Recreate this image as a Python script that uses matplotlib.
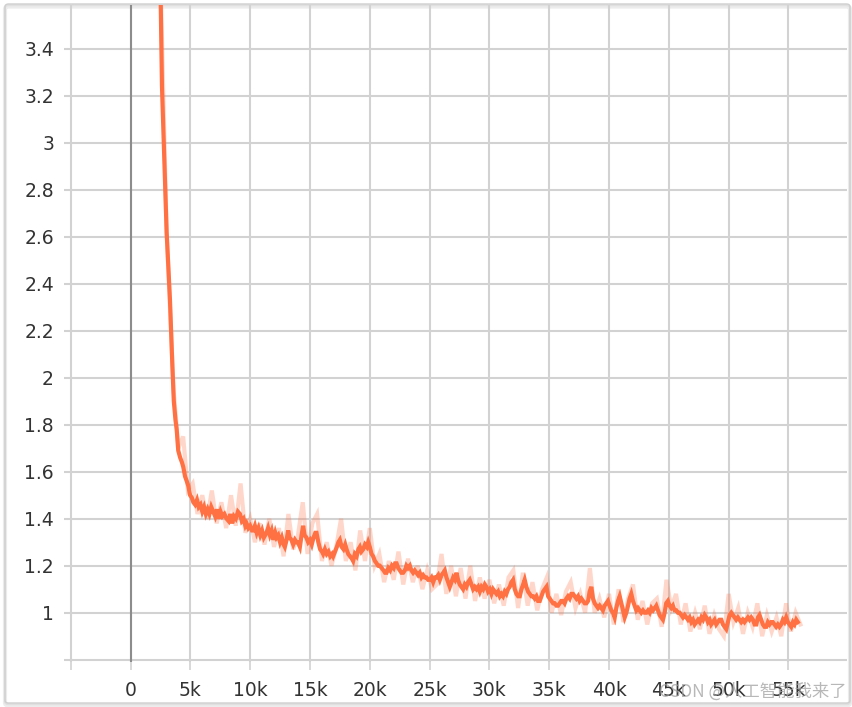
import matplotlib
matplotlib.use("Agg")
import matplotlib.pyplot as plt
from matplotlib.patches import FancyBboxPatch
from matplotlib.ticker import FuncFormatter, FixedLocator

# ---- data ----
smooth_steps = [
    2480, 2630, 3020, 3300, 3500, 3620, 3760, 3860, 3990, 4150,
    4300, 4410, 4560, 4700, 4830, 4980, 5120, 5250, 5400, 5560,
    5700, 5850, 6000, 6150, 6300, 6450, 6600, 6750, 6920, 7080,
    7230, 7380, 7530, 7680, 7850, 8030, 8200, 8350, 8500, 8650,
    8800, 8980, 9150, 9300, 9450, 9600, 9700, 9850, 10000, 10150,
    10260, 10400, 10550, 10700, 10850, 11000, 11150, 11370, 11500, 11650,
    11800, 11950, 12100, 12210, 12350, 12500, 12650, 12800, 12900, 13050,
    13180, 13300, 13450, 13600, 13750, 13880, 14000, 14160, 14300, 14430,
    14550, 14700, 14850, 15000, 15150, 15300, 15450, 15550, 15700, 15850,
    16000, 16100, 16250, 16400, 16550, 16700, 16850, 16940, 17100, 17250,
    17380, 17500, 17650, 17800, 17950, 18060, 18200, 18350, 18500, 18610,
    18750, 18900, 19050, 19170, 19300, 19450, 19600, 19750, 19870, 20000,
    20150, 20280, 20430, 20580, 20700, 20840, 21000, 21150, 21280, 21400,
    21550, 21700, 21850, 22000, 22120, 22240, 22380, 22520, 22650, 22790,
    22930, 23060, 23200, 23350, 23480, 23620, 23760, 23900, 24040, 24180,
    24320, 24460, 24600, 24740, 24880, 25020, 25160, 25300, 25440, 25580,
    25720, 25860, 26000, 26130, 26270, 26410, 26550, 26690, 26830, 26970,
    27110, 27250, 27380, 27520, 27660, 27800, 27940, 28080, 28220, 28360,
    28500, 28640, 28780, 28920, 29060, 29200, 29340, 29480, 29620, 29750,
    29890, 30030, 30170, 30310, 30450, 30590, 30730, 30870, 31000, 31140,
    31280, 31420, 31560, 31700, 31840, 31980, 32120, 32260, 32400, 32540,
    32680, 32820, 32950, 33090, 33230, 33370, 33510, 33650, 33790, 33930,
    34070, 34210, 34350, 34490, 34630, 34770, 34910, 35050, 35180, 35320,
    35460, 35600, 35740, 35880, 36010, 36150, 36290, 36430, 36570, 36710,
    36850, 36990, 37130, 37270, 37410, 37550, 37690, 37830, 37970, 38110,
    38250, 38380, 38520, 38660, 38800, 38940, 39080, 39220, 39350, 39490,
    39630, 39770, 39910, 40050, 40190, 40330, 40470, 40610, 40750, 40890,
    41030, 41170, 41310, 41450, 41590, 41720, 41860, 42000, 42140, 42280,
    42420, 42560, 42700, 42840, 42980, 43120, 43260, 43400, 43540, 43680,
    43820, 43950, 44090, 44230, 44370, 44510, 44650, 44780, 44920, 45060,
    45200, 45340, 45480, 45620, 45760, 45900, 46040, 46180, 46320, 46460,
    46600, 46740, 46880, 47020, 47160, 47300, 47440, 47580, 47720, 47860,
    48000, 48130, 48270, 48410, 48540, 48680, 48820, 48960, 49100, 49240,
    49380, 49520, 49660, 49800, 49940, 50080, 50220, 50360, 50500, 50630,
    50770, 50910, 51050, 51190, 51330, 51470, 51610, 51750, 51890, 52030,
    52170, 52310, 52450, 52580, 52720, 52860, 53000, 53140, 53280, 53420,
    53560, 53690, 53830, 53970, 54110, 54250, 54390, 54530, 54670, 54810,
    54950, 55090, 55230, 55370, 55510, 55650, 55780]
smooth_loss = [
    3.75, 3.24, 2.62, 2.33, 2.05, 1.90, 1.82, 1.78, 1.69, 1.66,
    1.64, 1.62, 1.58, 1.56, 1.54, 1.50, 1.49, 1.47, 1.46, 1.48,
    1.45, 1.46, 1.43, 1.45, 1.42, 1.44, 1.42, 1.45, 1.43, 1.41,
    1.44, 1.40, 1.43, 1.41, 1.42, 1.40, 1.39, 1.42, 1.38, 1.41,
    1.40, 1.43, 1.42, 1.39, 1.40, 1.37, 1.38, 1.36, 1.37, 1.35,
    1.35, 1.37, 1.34, 1.36, 1.33, 1.35, 1.32, 1.34, 1.36, 1.33,
    1.35, 1.31, 1.34, 1.32, 1.33, 1.30, 1.32, 1.29, 1.28, 1.31,
    1.35, 1.32, 1.31, 1.29, 1.31, 1.30, 1.30, 1.28, 1.33, 1.37,
    1.33, 1.32, 1.30, 1.31, 1.29, 1.32, 1.34, 1.34, 1.30, 1.27,
    1.26, 1.25, 1.27, 1.25, 1.26, 1.24, 1.25, 1.24, 1.26, 1.28,
    1.30, 1.31, 1.28, 1.27, 1.29, 1.27, 1.25, 1.24, 1.23, 1.22,
    1.25, 1.24, 1.27, 1.28, 1.26, 1.27, 1.29, 1.28, 1.30, 1.28,
    1.25, 1.24, 1.22, 1.21, 1.20, 1.20, 1.19, 1.18, 1.17, 1.17,
    1.19, 1.18, 1.20, 1.19, 1.21, 1.21, 1.19, 1.18, 1.17, 1.17,
    1.18, 1.20, 1.19, 1.20, 1.18, 1.17, 1.18, 1.17, 1.16, 1.17,
    1.15, 1.16, 1.15, 1.15, 1.14, 1.14, 1.15, 1.13, 1.15, 1.15,
    1.16, 1.14, 1.16, 1.17, 1.18, 1.15, 1.13, 1.11, 1.13, 1.15,
    1.14, 1.17, 1.14, 1.12, 1.11, 1.10, 1.12, 1.11, 1.13, 1.14,
    1.12, 1.10, 1.11, 1.10, 1.11, 1.09, 1.11, 1.10, 1.12, 1.11,
    1.09, 1.10, 1.08, 1.10, 1.09, 1.08, 1.09, 1.07, 1.08, 1.07,
    1.09, 1.08, 1.10, 1.11, 1.13, 1.14, 1.10, 1.08, 1.07, 1.07,
    1.10, 1.12, 1.14, 1.11, 1.09, 1.08, 1.07, 1.07, 1.06, 1.07,
    1.05, 1.05, 1.07, 1.09, 1.10, 1.11, 1.07, 1.06, 1.05, 1.04,
    1.04, 1.03, 1.03, 1.04, 1.05, 1.05, 1.04, 1.06, 1.07, 1.06,
    1.08, 1.08, 1.07, 1.06, 1.07, 1.05, 1.06, 1.05, 1.04, 1.04,
    1.05, 1.09, 1.11, 1.06, 1.04, 1.03, 1.02, 1.03, 1.02, 1.01,
    1.03, 1.04, 1.05, 1.03, 1.01, 1.00, 0.98, 1.02, 1.05, 1.07,
    1.04, 1.01, 0.98, 1.00, 1.03, 1.06, 1.08, 1.05, 1.03, 1.01,
    1.02, 1.01, 1.00, 1.01, 1.00, 1.00, 1.01, 1.00, 1.02, 1.01,
    1.02, 1.03, 1.01, 0.99, 0.98, 0.97, 1.00, 1.04, 1.05, 1.03,
    1.02, 1.03, 1.01, 1.01, 1.00, 1.00, 0.99, 0.98, 0.99, 0.98,
    0.97, 0.98, 0.96, 0.97, 0.95, 0.96, 0.97, 0.96, 0.98, 0.97,
    0.99, 0.98, 0.96, 0.97, 0.95, 0.96, 0.97, 0.95, 0.96, 0.97,
    0.97, 0.95, 0.94, 0.93, 0.96, 0.99, 1.00, 0.99, 0.98, 0.97,
    0.98, 0.97, 0.96, 0.97, 0.96, 0.97, 0.98, 0.97, 0.98, 0.97,
    0.95, 0.95, 0.98, 0.99, 0.97, 0.95, 0.94, 0.94, 0.96, 0.95,
    0.96, 0.96, 0.95, 0.94, 0.95, 0.94, 0.95, 0.97, 0.96, 0.98,
    0.96, 0.95, 0.94, 0.96, 0.95, 0.97, 0.96]

raw_steps = [
    2480, 3020, 3300, 3600, 4000, 4400, 4800, 5200, 5600, 6000,
    6400, 6800, 7200, 7600, 8000, 8400, 8800, 9200, 9600, 10000,
    10400, 10800, 11200, 11600, 12000, 12400, 12800, 13200, 13600, 14000,
    14400, 14800, 15200, 15600, 16000, 16400, 16800, 17200, 17600, 18000,
    18400, 18800, 19200, 19600, 20000, 20400, 20800, 21200, 21600, 22000,
    22400, 22800, 23200, 23600, 24000, 24400, 24800, 25200, 25600, 26000,
    26400, 26800, 27200, 27600, 28000, 28400, 28800, 29200, 29600, 30000,
    30400, 30800, 31200, 31600, 32000, 32400, 32800, 33200, 33600, 34000,
    34400, 34800, 35200, 35600, 36000, 36400, 36800, 37200, 37600, 38000,
    38400, 38800, 39200, 39600, 40000, 40400, 40800, 41200, 41600, 42000,
    42400, 42800, 43200, 43600, 44000, 44400, 44800, 45200, 45600, 46000,
    46400, 46800, 47200, 47600, 48000, 48400, 48800, 49200, 49600, 50000,
    50400, 50800, 51200, 51600, 52000, 52400, 52800, 53200, 53600, 54000,
    54400, 54800, 55200, 55600, 56000]
raw_loss = [
    3.75, 2.62, 2.30, 1.95, 1.70, 1.75, 1.52, 1.55, 1.42, 1.50,
    1.40, 1.52, 1.38, 1.47, 1.36, 1.50, 1.37, 1.55, 1.34, 1.40,
    1.30, 1.38, 1.29, 1.40, 1.28, 1.36, 1.24, 1.42, 1.27, 1.33,
    1.47, 1.25, 1.38, 1.42, 1.22, 1.30, 1.20, 1.28, 1.40, 1.22,
    1.30, 1.18, 1.35, 1.22, 1.36, 1.20, 1.25, 1.13, 1.22, 1.14,
    1.26, 1.12, 1.23, 1.13, 1.20, 1.10, 1.18, 1.10, 1.12, 1.25,
    1.08, 1.20, 1.07, 1.19, 1.06, 1.20, 1.05, 1.15, 1.06, 1.14,
    1.04, 1.12, 1.03, 1.15, 1.18, 1.02, 1.17, 1.03, 1.13, 1.01,
    1.10, 1.15, 1.00, 1.08, 0.99, 1.09, 1.13, 1.02, 1.08, 1.00,
    1.19, 1.00, 1.06, 0.98, 1.08, 0.95, 1.10, 0.96, 1.06, 1.12,
    0.97, 1.05, 0.95, 1.04, 1.06, 0.94, 1.14, 1.02, 1.08, 0.95,
    1.04, 0.92, 1.00, 0.93, 1.03, 0.91, 0.99, 0.93, 0.90, 1.08,
    0.96, 1.02, 0.91, 1.00, 0.94, 1.04, 0.90, 0.99, 0.92, 0.98,
    0.90, 1.04, 0.92, 1.00, 0.95]

x_ticks = [-5000, 0, 5000, 10000, 15000, 20000, 25000, 30000, 35000, 40000,
           45000, 50000, 55000]
y_ticks = [0.8, 1.0, 1.2, 1.4, 1.6, 1.8, 2.0, 2.2, 2.4, 2.6, 2.8, 3.0, 3.2, 3.4]

LINE = "#ff7043"
GRID = "#d2d2d2"

plt.rcParams['font.family'] = ['DejaVu Sans']

fig = plt.figure(figsize=(8.53, 7.07), dpi=100)
W, H = 853, 707

# card border with soft shadow
for off, col, lw in [(2.5, "#ececec", 3.0), (1.2, "#e0e0e0", 1.5)]:
    fig.patches.append(FancyBboxPatch((5 / W, (H - 703 - off) / H),
                                      845 / W, 699 / H,
                                      boxstyle="round,pad=0,rounding_size=0.004",
                                      transform=fig.transFigure, fill=False,
                                      edgecolor=col, linewidth=lw, zorder=-2))
fig.patches.append(FancyBboxPatch((5 / W, (H - 703) / H), 845 / W, 699 / H,
                                  boxstyle="round,pad=0,rounding_size=0.004",
                                  transform=fig.transFigure, fill=False,
                                  edgecolor="#cfcfcf", linewidth=1.0, zorder=-1))

left_px, right_px, top_px, bot_px = 64, 846.7, 5, 662
ax = fig.add_axes([left_px / W, 1 - bot_px / H, (right_px - left_px) / W,
                   (bot_px - top_px) / H])
ax.set_zorder(2)
ax.set_facecolor("none")

ax.plot(raw_steps, raw_loss, color=LINE, alpha=0.28, lw=3.0, zorder=3,
        solid_joinstyle="miter")
ax.plot(smooth_steps, smooth_loss, color=LINE, lw=3.0, zorder=4,
        solid_joinstyle="miter")

ax.set_xlim(-5559, 59868)
ax.set_ylim(0.8 - 2.3 / 235, 3.586)

ax.xaxis.set_major_locator(FixedLocator(x_ticks))
ax.yaxis.set_major_locator(FixedLocator(y_ticks))


def xfmt(v, pos):
    if v < 0:
        return ""
    if v == 0:
        return "0"
    return f"{int(round(v / 1000))}k"


def yfmt(v, pos):
    if v < 0.9:
        return ""
    return f"{v:.1f}".rstrip("0").rstrip(".")


ax.xaxis.set_major_formatter(FuncFormatter(xfmt))
ax.yaxis.set_major_formatter(FuncFormatter(yfmt))

ax.grid(True, color=GRID, lw=1.5, zorder=1)
ax.axvline(0, color="#8c8c8c", lw=1.5, zorder=2)
for s in ax.spines.values():
    s.set_visible(False)

ax.tick_params(axis="x", length=5.5, width=1.2, color=GRID, pad=8,
               labelsize=13.5, labelcolor="#333333")
ax.tick_params(axis="y", length=0, pad=7.2, labelsize=13.5,
               labelcolor="#333333")

fig.text(847 / W, 1 - 692 / H, "CSDN @人工智能我来了", ha="right", va="center",
         fontsize=12.5, color="#a0a0a0", alpha=0.75, zorder=5,
         family=["Noto Sans CJK SC", "DejaVu Sans"])

fig.savefig("out.png", dpi=100, facecolor="white")
